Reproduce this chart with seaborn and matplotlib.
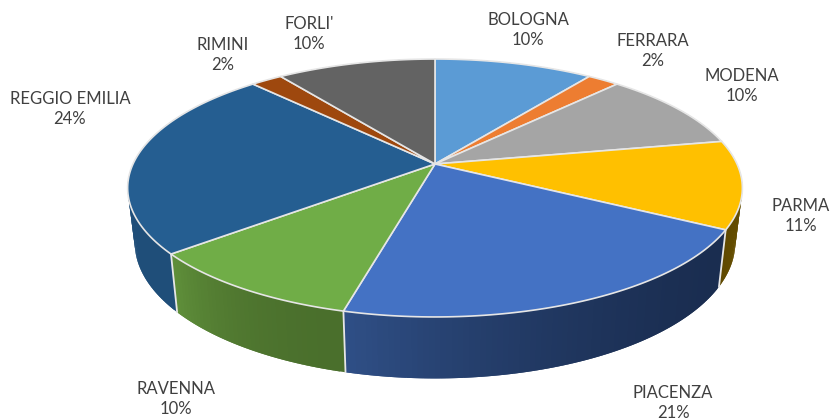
import numpy as np
import seaborn as sns
import matplotlib.pyplot as plt
from matplotlib.colors import to_rgb

cities = ['BOLOGNA', 'FERRARA', 'MODENA', 'PARMA', 'PIACENZA', 'RAVENNA', 'REGGIO EMILIA', 'RIMINI', "FORLI'"]
shares = [10, 2, 10, 11, 21, 10, 24, 2, 10]
top_colors = ['#5B9BD5', '#ED7D31', '#A5A5A5', '#FFC000', '#4472C4', '#70AD47', '#255E91', '#9E480E', '#636363']
# wall shading, start and end of each slice going clockwise
wall_start = ['#3f6c94', '#a5571f', '#737373', '#6b5200', '#1a2d50', '#4a6f2c', '#1f4e79', '#6e320a', '#454545']
wall_end = ['#3f6c94', '#a5571f', '#737373', '#5f4900', '#2f4f86', '#5f8f3a', '#1f4e79', '#6e320a', '#454545']
label_x = [528, 653, 742, 801, 673, 176, 70, 223, 309]
label_y = [30, 51, 86, 216, 403, 399, 109, 55, 34]

sns.set_theme(style='white')
plt.rcParams['font.family'] = ['Lato', 'DejaVu Sans']
palette = sns.color_palette(top_colors)

fig = plt.figure(figsize=(8.32, 4.18), dpi=100)
ax = fig.add_axes([0, 0, 1, 1])
ax.set_xlim(0, 832)
ax.set_ylim(418, 0)
ax.axis('off')

# perspective of the disc, top and bottom plane
CX, K = 435, 0.186


def project(theta, cy, a, b):
    u, v = np.sin(theta), np.cos(theta)
    d = 1 + K * v
    return CX + a * u / d, cy - b * v / d


def top_rim(theta):
    return project(theta, 164, 302, 124.5)


def low_rim(theta):
    return project(theta, 217.5, 295, 131)


edges = np.cumsum([0] + shares) / sum(shares) * 2 * np.pi
seam = '#e6e6e6'

# walls first, the top surface covers whatever faces backwards
for i in range(len(shares)):
    n = max(4, shares[i] * 4)
    steps = np.linspace(edges[i], edges[i + 1], n + 1)
    c0, c1 = np.array(to_rgb(wall_start[i])), np.array(to_rgb(wall_end[i]))
    for j in range(n):
        # each strip runs a little into the next one so no gap shows
        end = steps[min(j + 2, n)]
        t = np.linspace(steps[j], end, 6)
        x1, y1 = top_rim(t)
        x2, y2 = low_rim(t)
        col = c0 + (c1 - c0) * (j / max(n - 1, 1)) ** 2
        ax.fill(np.r_[x1, x2[::-1]], np.r_[y1, y2[::-1]], facecolor=col, edgecolor='none', zorder=2)

for th in edges[3:8]:
    x1, y1 = top_rim(th)
    x2, y2 = low_rim(th)
    ax.plot([x1, x2], [y1, y2], color=seam, lw=1.3, zorder=3)

for i in range(len(shares)):
    t = np.linspace(edges[i], edges[i + 1], 80)
    x, y = top_rim(t)
    ax.fill(np.r_[CX, x], np.r_[164, y], facecolor=palette[i], edgecolor=seam, lw=1.2, zorder=4)

for name, share, x, y in zip(cities, shares, label_x, label_y):
    ax.text(x, y, f'{name}\n{share}%', ha='center', va='center', fontsize=12,
            color='#404040', linespacing=1.35, zorder=5)

fig.savefig('out.png', dpi=100)
